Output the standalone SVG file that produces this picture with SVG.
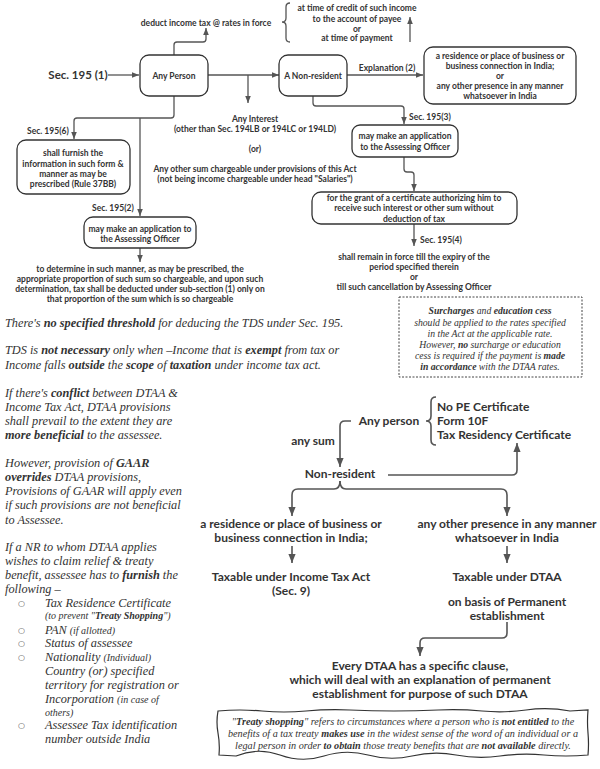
<svg xmlns="http://www.w3.org/2000/svg" width="600" height="769" viewBox="0 0 600 769">
<style>
.t{font-family:Lato,"Liberation Sans",sans-serif;font-weight:bold;font-size:8.5px;fill:#333;text-anchor:middle}
.tl{text-anchor:start}
.big{font-size:12px}
.h{font-size:11.5px}
.box{fill:#fff;stroke:#333;stroke-width:1.3}
.c{fill:none;stroke:#555;stroke-width:1.3}
.c2{fill:none;stroke:#555;stroke-width:1.6}
.i{font-family:"Liberation Serif",serif;font-style:italic;font-size:12.3px;fill:#333}
.sm{font-size:10px}
.d{font-size:9.7px;text-anchor:middle}
.e{font-size:10.2px}
.b{font-weight:bold}
</style>
<defs>
<marker id="a1" viewBox="0 0 10 10" refX="10" refY="5" markerWidth="7" markerHeight="7" orient="auto" markerUnits="userSpaceOnUse"><path d="M0,1 L10,5 L0,9 z" fill="#555"/></marker>
<marker id="a2" viewBox="0 0 10 10" refX="10" refY="5" markerWidth="9" markerHeight="9" orient="auto" markerUnits="userSpaceOnUse"><path d="M0,1 L10,5 L0,9 z" fill="#555"/></marker>
</defs>
<rect width="600" height="769" fill="#fff"/>

<g id="connectors">
<path class="c" d="M108,75 H139" marker-end="url(#a1)"/>
<path class="c" d="M174,55 V45 Q174,42 177,42 H203 Q206,42 206,39 V28" marker-end="url(#a1)"/>
<path class="c" d="M208,75 H279" marker-end="url(#a1)"/>
<path class="c" d="M248,75 V103" marker-end="url(#a1)"/>
<path class="c" d="M410,42 V17" marker-end="url(#a1)"/>
<path class="c" d="M347,75 H423" marker-end="url(#a1)"/>
<path class="c" d="M313,96 V103 Q313,106 316,106 H401 Q404,106 404,109 V124" marker-end="url(#a1)"/>
<path class="c" d="M404,157 V169 Q404,172 407,172 H411 Q414,172 414,175 V191" marker-end="url(#a1)"/>
<path class="c" d="M414,224 V246" marker-end="url(#a1)"/>
<path class="c" d="M174,96 V115 Q174,118 171,118 H77 Q74,118 74,121 V139" marker-end="url(#a1)"/>
<path class="c" d="M140,118 V216" marker-end="url(#a1)"/>
<path class="c" d="M140,248 V262" marker-end="url(#a1)"/>
<path class="c" d="M290,3 Q286,3 286,7 V18 Q286,22 282,22 Q286,22 286,26 V38 Q286,42 290,42"/>

<path class="c2" d="M351,421 H345 Q340,421 340,426 V467" marker-end="url(#a2)"/>
<path class="c2" d="M388,475 H512 Q517,475 517,470 V443" marker-end="url(#a2)"/>
<path class="c2" d="M340,481 Q340,489 334,489 H298 Q292,489 292,495 V516" marker-end="url(#a2)"/>
<path class="c2" d="M340,481 Q340,489 346,489 H501 Q507,489 507,495 V516" marker-end="url(#a2)"/>
<path class="c2" d="M292,546 V563" marker-end="url(#a2)"/>
<path class="c2" d="M507,546 V563" marker-end="url(#a2)"/>
<path class="c2" d="M507,622 V633 Q507,638 502,638 H425 Q420,638 420,643 V656" marker-end="url(#a2)"/>
<path class="c2" d="M436,397 Q431,397 431,402 V416 Q431,421 426,421 Q431,421 431,426 V440 Q431,445 436,445"/>
</g>

<g id="sec1951"><text class="t h" x="78" y="79">Sec. 195 (1)</text></g>
<g id="deduct"><text class="t" x="206" y="26">deduct income tax @ rates in force</text></g>
<g id="timing">
<text class="t" x="357" y="11">at time of credit of such income</text>
<text class="t" x="357" y="22">to the account of payee</text>
<text class="t" x="357" y="32">or</text>
<text class="t" x="357" y="41">at time of payment</text>
</g>
<g id="anyperson"><rect class="box" x="140" y="55" width="68" height="41" rx="9"/><text class="t" x="174" y="79">Any Person</text></g>
<g id="nonresident"><rect class="box" x="279" y="55" width="68" height="41" rx="9"/><text class="t" x="313" y="79">A Non-resident</text></g>
<g id="explanation"><text class="t" x="387" y="71">Explanation (2)</text></g>
<g id="residence">
<rect class="box" x="424" y="47" width="152" height="57" rx="9"/>
<text class="t" x="500" y="59">a residence or place of business or</text>
<text class="t" x="500" y="69">business connection in India;</text>
<text class="t" x="500" y="79">or</text>
<text class="t" x="500" y="89">any other presence in any manner</text>
<text class="t" x="500" y="99">whatsoever in India</text>
</g>
<g id="anyinterest">
<text class="t" x="255" y="122">Any Interest</text>
<text class="t" x="255" y="132">(other than Sec. 194LB or 194LC or 194LD)</text>
<text class="t" x="255" y="152">(or)</text>
<text class="t" x="255" y="172">Any other sum chargeable under provisions of  this Act</text>
<text class="t" x="255" y="182">(not being income chargeable under head "Salaries")</text>
</g>
<g id="sec1953"><text class="t tl" x="409" y="120">Sec. 195(3)</text></g>
<g id="app1"><rect class="box" x="352" y="125" width="106" height="32" rx="8"/>
<text class="t" x="405" y="139">may make an application</text>
<text class="t" x="405" y="150">to the Assessing Officer</text></g>
<g id="grant"><rect class="box" x="312" y="192" width="205" height="32" rx="9"/>
<text class="t" x="414" y="201">for the grant of a certificate authorizing him to</text>
<text class="t" x="414" y="211">receive such interest or other sum without</text>
<text class="t" x="414" y="222">deduction of tax</text></g>
<g id="sec1954"><text class="t tl" x="420" y="243">Sec. 195(4)</text></g>
<g id="remain">
<text class="t" x="414" y="260">shall remain in force till the expiry of the</text>
<text class="t" x="414" y="270">period specified therein</text>
<text class="t" x="414" y="280">or</text>
<text class="t" x="414" y="290">till such cancellation by Assessing Officer</text>
</g>
<g id="sec1956"><text class="t tl" x="27" y="134">Sec. 195(6)</text></g>
<g id="furnish"><rect class="box" x="17" y="140" width="113" height="54" rx="9"/>
<text class="t" x="73" y="156">shall furnish the</text>
<text class="t" x="73" y="167">information in such form &amp;</text>
<text class="t" x="73" y="177">manner as may be</text>
<text class="t" x="73" y="187">prescribed (Rule 37BB)</text></g>
<g id="sec1952"><text class="t tl" x="92" y="211">Sec. 195(2)</text></g>
<g id="app2"><rect class="box" x="84" y="217" width="112" height="31" rx="9"/>
<text class="t" x="140" y="232">may make an application to</text>
<text class="t" x="140" y="242">the Assessing Officer</text></g>
<g id="determine">
<text class="t" x="140" y="272">to determine in such manner, as may be prescribed, the</text>
<text class="t" x="140" y="282">appropriate proportion of such sum so chargeable, and upon such</text>
<text class="t" x="140" y="292">determination, tax shall be deducted under sub-section (1) only on</text>
<text class="t" x="140" y="302">that proportion of the sum which is so chargeable</text>
</g>

<g id="notes">
<text class="i" x="5" y="327">There's <tspan class="b">no specified threshold</tspan> for deducing the TDS under Sec. 195.</text>
<text class="i" x="5" y="354">TDS is <tspan class="b">not necessary</tspan> only when –Income that is <tspan class="b">exempt</tspan> from tax or</text>
<text class="i" x="5" y="369">Income falls <tspan class="b">outside</tspan> the <tspan class="b">scope</tspan> of <tspan class="b">taxation</tspan> under income tax act.</text>
<text class="i" x="5" y="397">If there's <tspan class="b">conflict</tspan> between DTAA &amp;</text>
<text class="i" x="5" y="411">Income Tax Act, DTAA provisions</text>
<text class="i" x="5" y="425">shall prevail to the extent they are</text>
<text class="i" x="5" y="439"><tspan class="b">more beneficial</tspan> to the assessee.</text>
<text class="i" x="5" y="467">However, provision of <tspan class="b">GAAR</tspan></text>
<text class="i" x="5" y="481"><tspan class="b">overrides</tspan> DTAA provisions,</text>
<text class="i" x="5" y="495">Provisions of GAAR will apply even</text>
<text class="i" x="5" y="509">if such provisions are not beneficial</text>
<text class="i" x="5" y="524">to Assessee.</text>
<text class="i" x="5" y="551">If a NR to whom DTAA applies</text>
<text class="i" x="5" y="565">wishes to claim relief &amp; treaty</text>
<text class="i" x="5" y="579">benefit, assessee has to <tspan class="b">furnish</tspan> the</text>
<text class="i" x="5" y="593">following –</text>
<g font-family="'DejaVu Sans',sans-serif" font-size="8" fill="#555">
<text x="18" y="606">○</text><text x="18" y="633">○</text><text x="18" y="646">○</text><text x="18" y="660">○</text><text x="18" y="728">○</text>
</g>
<text class="i" x="45" y="607">Tax Residence Certificate</text>
<text class="i sm" x="45" y="619">(to prevent "<tspan class="b">Treaty Shopping</tspan>")</text>
<text class="i" x="45" y="634">PAN <tspan class="sm">(if allotted)</tspan></text>
<text class="i" x="45" y="647">Status of assessee</text>
<text class="i" x="45" y="661">Nationality <tspan class="sm">(Individual)</tspan></text>
<text class="i" x="45" y="675">Country (or) specified</text>
<text class="i" x="45" y="689">territory for registration or</text>
<text class="i" x="45" y="703">Incorporation <tspan class="sm">(in case of</tspan></text>
<text class="i sm" x="45" y="716">others)</text>
<text class="i" x="45" y="729">Assessee Tax identification</text>
<text class="i" x="45" y="743">number outside India</text>
</g>

<g id="surcharge">
<rect x="399" y="297" width="183" height="80" fill="none" stroke="#444" stroke-width="1" stroke-dasharray="2,1.5"/>
<text class="i d" x="490" y="314"><tspan class="b">Surcharges</tspan> and <tspan class="b">education cess</tspan></text>
<text class="i d" x="490" y="326">should be applied to the rates specified</text>
<text class="i d" x="490" y="337">in the Act at the applicable rate.</text>
<text class="i d" x="490" y="348">However, <tspan class="b">no</tspan> surcharge or education</text>
<text class="i d" x="490" y="359">cess is required if the payment is <tspan class="b">made</tspan></text>
<text class="i d" x="490" y="370"><tspan class="b">in accordance</tspan> with the DTAA rates.</text>
</g>

<g id="anyperson2"><text class="t big" x="389" y="425">Any person</text></g>
<g id="docs">
<text class="t big tl" x="437" y="411">No PE Certificate</text>
<text class="t big tl" x="437" y="425">Form 10F</text>
<text class="t big tl" x="437" y="439">Tax Residency Certificate</text>
</g>
<g id="anysum"><text class="t big" x="313" y="445">any sum</text></g>
<g id="nonresident2"><text class="t big" x="340" y="478">Non-resident</text></g>
<g id="resid2">
<text class="t big" x="291" y="528">a residence or place of business or</text>
<text class="t big" x="291" y="542">business connection in India;</text>
</g>
<g id="other2">
<text class="t big" x="507" y="528">any other presence in any manner</text>
<text class="t big" x="507" y="542">whatsoever in India</text>
</g>
<g id="taxit">
<text class="t big" x="291" y="581">Taxable under Income Tax Act</text>
<text class="t big" x="291" y="595">(Sec. 9)</text>
</g>
<g id="taxdtaa"><text class="t big" x="507" y="581">Taxable under DTAA</text></g>
<g id="pe">
<text class="t big" x="507" y="606">on basis of Permanent</text>
<text class="t big" x="507" y="620">establishment</text>
</g>
<g id="every">
<text class="t big" x="420" y="670">Every DTAA has a specific clause,</text>
<text class="t big" x="420" y="684">which will deal with an explanation of permanent</text>
<text class="t big" x="420" y="698">establishment for purpose of such DTAA</text>
</g>

<g id="treaty">
<path d="M218,711 Q240,709 262,711 T306,711 T350,710 T394,711 T438,710 T482,711 T526,710 T570,711 L588,710 Q587,722 588,733 T588,755 Q566,757 544,755 T500,756 T456,755 T412,756 T368,755 T324,756 T280,755 T236,756 L219,755 Q220,744 218,733 T218,711 Z" fill="#fff" stroke="#333" stroke-width="1.2"/>
<text class="i d e" x="403" y="725">"<tspan class="b">Treaty shopping</tspan>" refers to circumstances where a person who is <tspan class="b">not entitled</tspan> to the</text>
<text class="i d e" x="403" y="737">benefits of a tax treaty <tspan class="b">makes use</tspan> in the widest sense of the word of an individual or a</text>
<text class="i d e" x="403" y="749">legal person in order <tspan class="b">to obtain</tspan> those treaty benefits that are <tspan class="b">not available</tspan> directly.</text>
</g>
</svg>
